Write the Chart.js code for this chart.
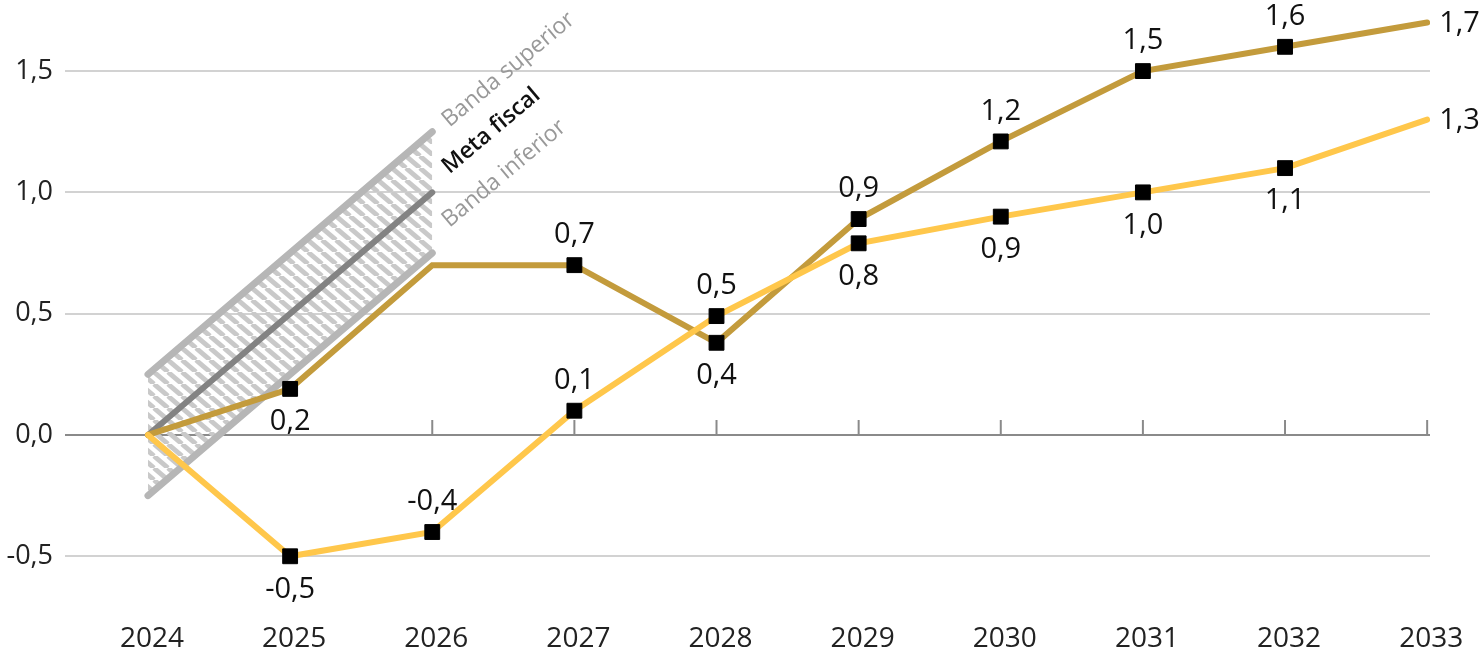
<!DOCTYPE html>
<html>
<head>
<meta charset="utf-8">
<script src="https://cdn.jsdelivr.net/npm/chart.js@4/dist/chart.umd.min.js"></script>
<style>
  html, body { margin: 0; padding: 0; background: #ffffff; }
  #wrap { width: 1482px; height: 663px; position: relative; }
</style>
</head>
<body>
<div id="wrap"><canvas id="chart"></canvas></div>
<script>
// dados do gráfico
const years = [2024, 2025, 2026, 2027, 2028, 2029, 2030, 2031, 2032, 2033];
const goldValues = [0, 0.19, 0.7, 0.7, 0.38, 0.89, 1.21, 1.5, 1.6, 1.7];
const yellowValues = [0, -0.5, -0.4, 0.1, 0.49, 0.79, 0.9, 1.0, 1.1, 1.3];

// banda da meta fiscal (2024 -> 2026)
const bandYears = [2024, 2026];
const bandUpper = [0.25, 1.25];
const metaValues = [0, 1.0];
const bandLower = [-0.25, 0.75];
const bandLabels = ["Banda superior", "Meta fiscal", "Banda inferior"];

const yTicks = [-0.5, 0, 0.5, 1.0, 1.5];
const zeroTickYears = [2026, 2027, 2028, 2029, 2030, 2031, 2032, 2033];

// onde vai cada rótulo: a = acima, b = abaixo, r = à direita
const goldLabelPos = ["", "b", "", "a", "b", "a", "a", "a", "a", "r"];
const yellowLabelPos = ["", "b", "a", "a", "a", "b", "b", "b", "b", "r"];
const goldMarkers = [0, 1, 0, 1, 1, 1, 1, 1, 1, 0];
const yellowMarkers = [0, 1, 1, 1, 1, 1, 1, 1, 1, 0];

const GOLD = "#c39b3c";
const YELLOW = "#ffc74b";
const FONT = "'Open Sans', 'Noto Sans', sans-serif";
const MARK_R = 10.5;

function toPoints(xs, ys) {
  return xs.map((x, i) => ({ x, y: ys[i] }));
}

function fmt(v) {
  return v.toFixed(1).replace(".", ",");
}

// padrão hachurado da banda (listras descendo pra direita)
function makeHatch() {
  const w = 14, h = 12;
  const c = document.createElement("canvas");
  c.width = w;
  c.height = h;
  const g = c.getContext("2d");
  g.strokeStyle = "#c9c9c9";
  g.lineWidth = 4.8;
  [-w, 0, w].forEach((x0) => {
    g.beginPath();
    g.moveTo(x0, 0);
    g.lineTo(x0 + w, h);
    g.stroke();
  });
  return g.createPattern(c, "repeat");
}

// marcas verticais sobre a linha do zero
const zeroTicksPlugin = {
  id: "zeroTicks",
  beforeDatasetsDraw(chart) {
    const { ctx, scales } = chart;
    const y0 = scales.y.getPixelForValue(0);
    ctx.save();
    ctx.strokeStyle = "#8a8a8a";
    ctx.lineWidth = 2;
    zeroTickYears.forEach((yr) => {
      const x = scales.x.getPixelForValue(yr);
      ctx.beginPath();
      ctx.moveTo(x, y0);
      ctx.lineTo(x, y0 - 15);
      ctx.stroke();
    });
    ctx.restore();
  }
};

// rótulos dos valores + textos da banda
const labelsPlugin = {
  id: "valueLabels",
  afterDatasetsDraw(chart) {
    const { ctx, scales } = chart;
    ctx.save();
    ctx.font = `29px ${FONT}`;
    ctx.fillStyle = "#111111";
    ctx.textBaseline = "middle";

    const drawSeries = (vals, pos) => {
      vals.forEach((v, i) => {
        const p = pos[i];
        if (!p) return;
        const x = scales.x.getPixelForValue(years[i]);
        const y = scales.y.getPixelForValue(v);
        if (p === "a") {
          ctx.textAlign = "center";
          ctx.fillText(fmt(v), x, y - 30);
        } else if (p === "b") {
          ctx.textAlign = "center";
          ctx.fillText(fmt(v), x, y + 33);
        } else {
          ctx.textAlign = "left";
          ctx.fillText(fmt(v), x + 12, y + 1);
        }
      });
    };
    drawSeries(goldValues, goldLabelPos);
    drawSeries(yellowValues, yellowLabelPos);

    // textos inclinados da banda
    const ends = [bandUpper[1], metaValues[1], bandLower[1]];
    const dys = [-9, -23, -30];
    const colors = ["#999999", "#111111", "#999999"];
    const weights = ["400", "600", "400"];
    bandLabels.forEach((txt, i) => {
      const x = scales.x.getPixelForValue(bandYears[1]) + 13;
      const y = scales.y.getPixelForValue(ends[i]) + dys[i];
      ctx.save();
      ctx.translate(x, y);
      ctx.rotate(-40 * Math.PI / 180);
      ctx.font = `${weights[i]} 23px ${FONT}`;
      ctx.fillStyle = colors[i];
      ctx.textAlign = "left";
      ctx.textBaseline = "middle";
      ctx.fillText(txt, 0, 0);
      ctx.restore();
    });
    ctx.restore();
  }
};

const ctx = document.getElementById("chart").getContext("2d");
const hatch = makeHatch();

new Chart(ctx, {
  type: "line",
  data: {
    datasets: [
      {
        data: toPoints(bandYears, bandUpper),
        borderColor: "#b6b6b6",
        borderWidth: 7,
        borderCapStyle: "round",
        backgroundColor: hatch,
        fill: "+1",
        pointRadius: 0,
        order: 6
      },
      {
        data: toPoints(bandYears, bandLower),
        borderColor: "#b6b6b6",
        borderWidth: 7,
        borderCapStyle: "round",
        fill: false,
        pointRadius: 0,
        order: 5
      },
      {
        data: toPoints(bandYears, metaValues),
        borderColor: "#838383",
        borderWidth: 6,
        borderCapStyle: "round",
        fill: false,
        pointRadius: 0,
        order: 4
      },
      {
        data: toPoints(years, goldValues),
        borderColor: GOLD,
        borderWidth: 6,
        borderCapStyle: "round",
        fill: false,
        pointRadius: 0,
        order: 3
      },
      {
        data: toPoints(years, yellowValues),
        borderColor: YELLOW,
        borderWidth: 6,
        borderCapStyle: "round",
        fill: false,
        pointRadius: 0,
        order: 2
      },
      {
        data: toPoints(years, goldValues),
        showLine: false,
        pointStyle: "rect",
        pointRadius: goldMarkers.map((m) => m * MARK_R),
        pointBackgroundColor: "#000000",
        pointBorderColor: "#000000",
        pointBorderWidth: 1,
        order: 1
      },
      {
        data: toPoints(years, yellowValues),
        showLine: false,
        pointStyle: "rect",
        pointRadius: yellowMarkers.map((m) => m * MARK_R),
        pointBackgroundColor: "#000000",
        pointBorderColor: "#000000",
        pointBorderWidth: 1,
        order: 0
      }
    ]
  },
  options: {
    responsive: true,
    maintainAspectRatio: false,
    animation: false,
    layout: {
      padding: { top: 0, right: 52, bottom: 0, left: 0 }
    },
    elements: {
      line: { tension: 0 }
    },
    plugins: {
      legend: { display: false },
      tooltip: { enabled: false }
    },
    scales: {
      x: {
        type: "linear",
        min: 2023.416,
        max: 2033.02,
        afterBuildTicks: (scale) => {
          scale.ticks = years.map((v) => ({ value: v }));
        },
        afterFit: (scale) => {
          scale.height = 51;
        },
        ticks: {
          color: "#222222",
          font: { family: FONT, size: 28 },
          padding: 10,
          labelOffset: 4,
          maxRotation: 0,
          autoSkip: false,
          callback: (v) => String(v)
        },
        grid: { display: false, drawTicks: false },
        border: { display: false }
      },
      y: {
        type: "linear",
        min: -0.7297,
        max: 1.793,
        afterBuildTicks: (scale) => {
          scale.ticks = yTicks.map((v) => ({ value: v }));
        },
        afterFit: (scale) => {
          scale.width = 65;
          scale.paddingTop = 0;
          scale.paddingBottom = 0;
        },
        ticks: {
          color: "#222222",
          font: { family: FONT, size: 27 },
          padding: 12,
          callback: (v) => fmt(v)
        },
        grid: {
          drawTicks: false,
          lineWidth: 2,
          color: (c) => (c.tick && c.tick.value === 0 ? "#8a8a8a" : "#d2d2d2")
        },
        border: { display: false }
      }
    }
  },
  plugins: [zeroTicksPlugin, labelsPlugin]
});
</script>
</body>
</html>
